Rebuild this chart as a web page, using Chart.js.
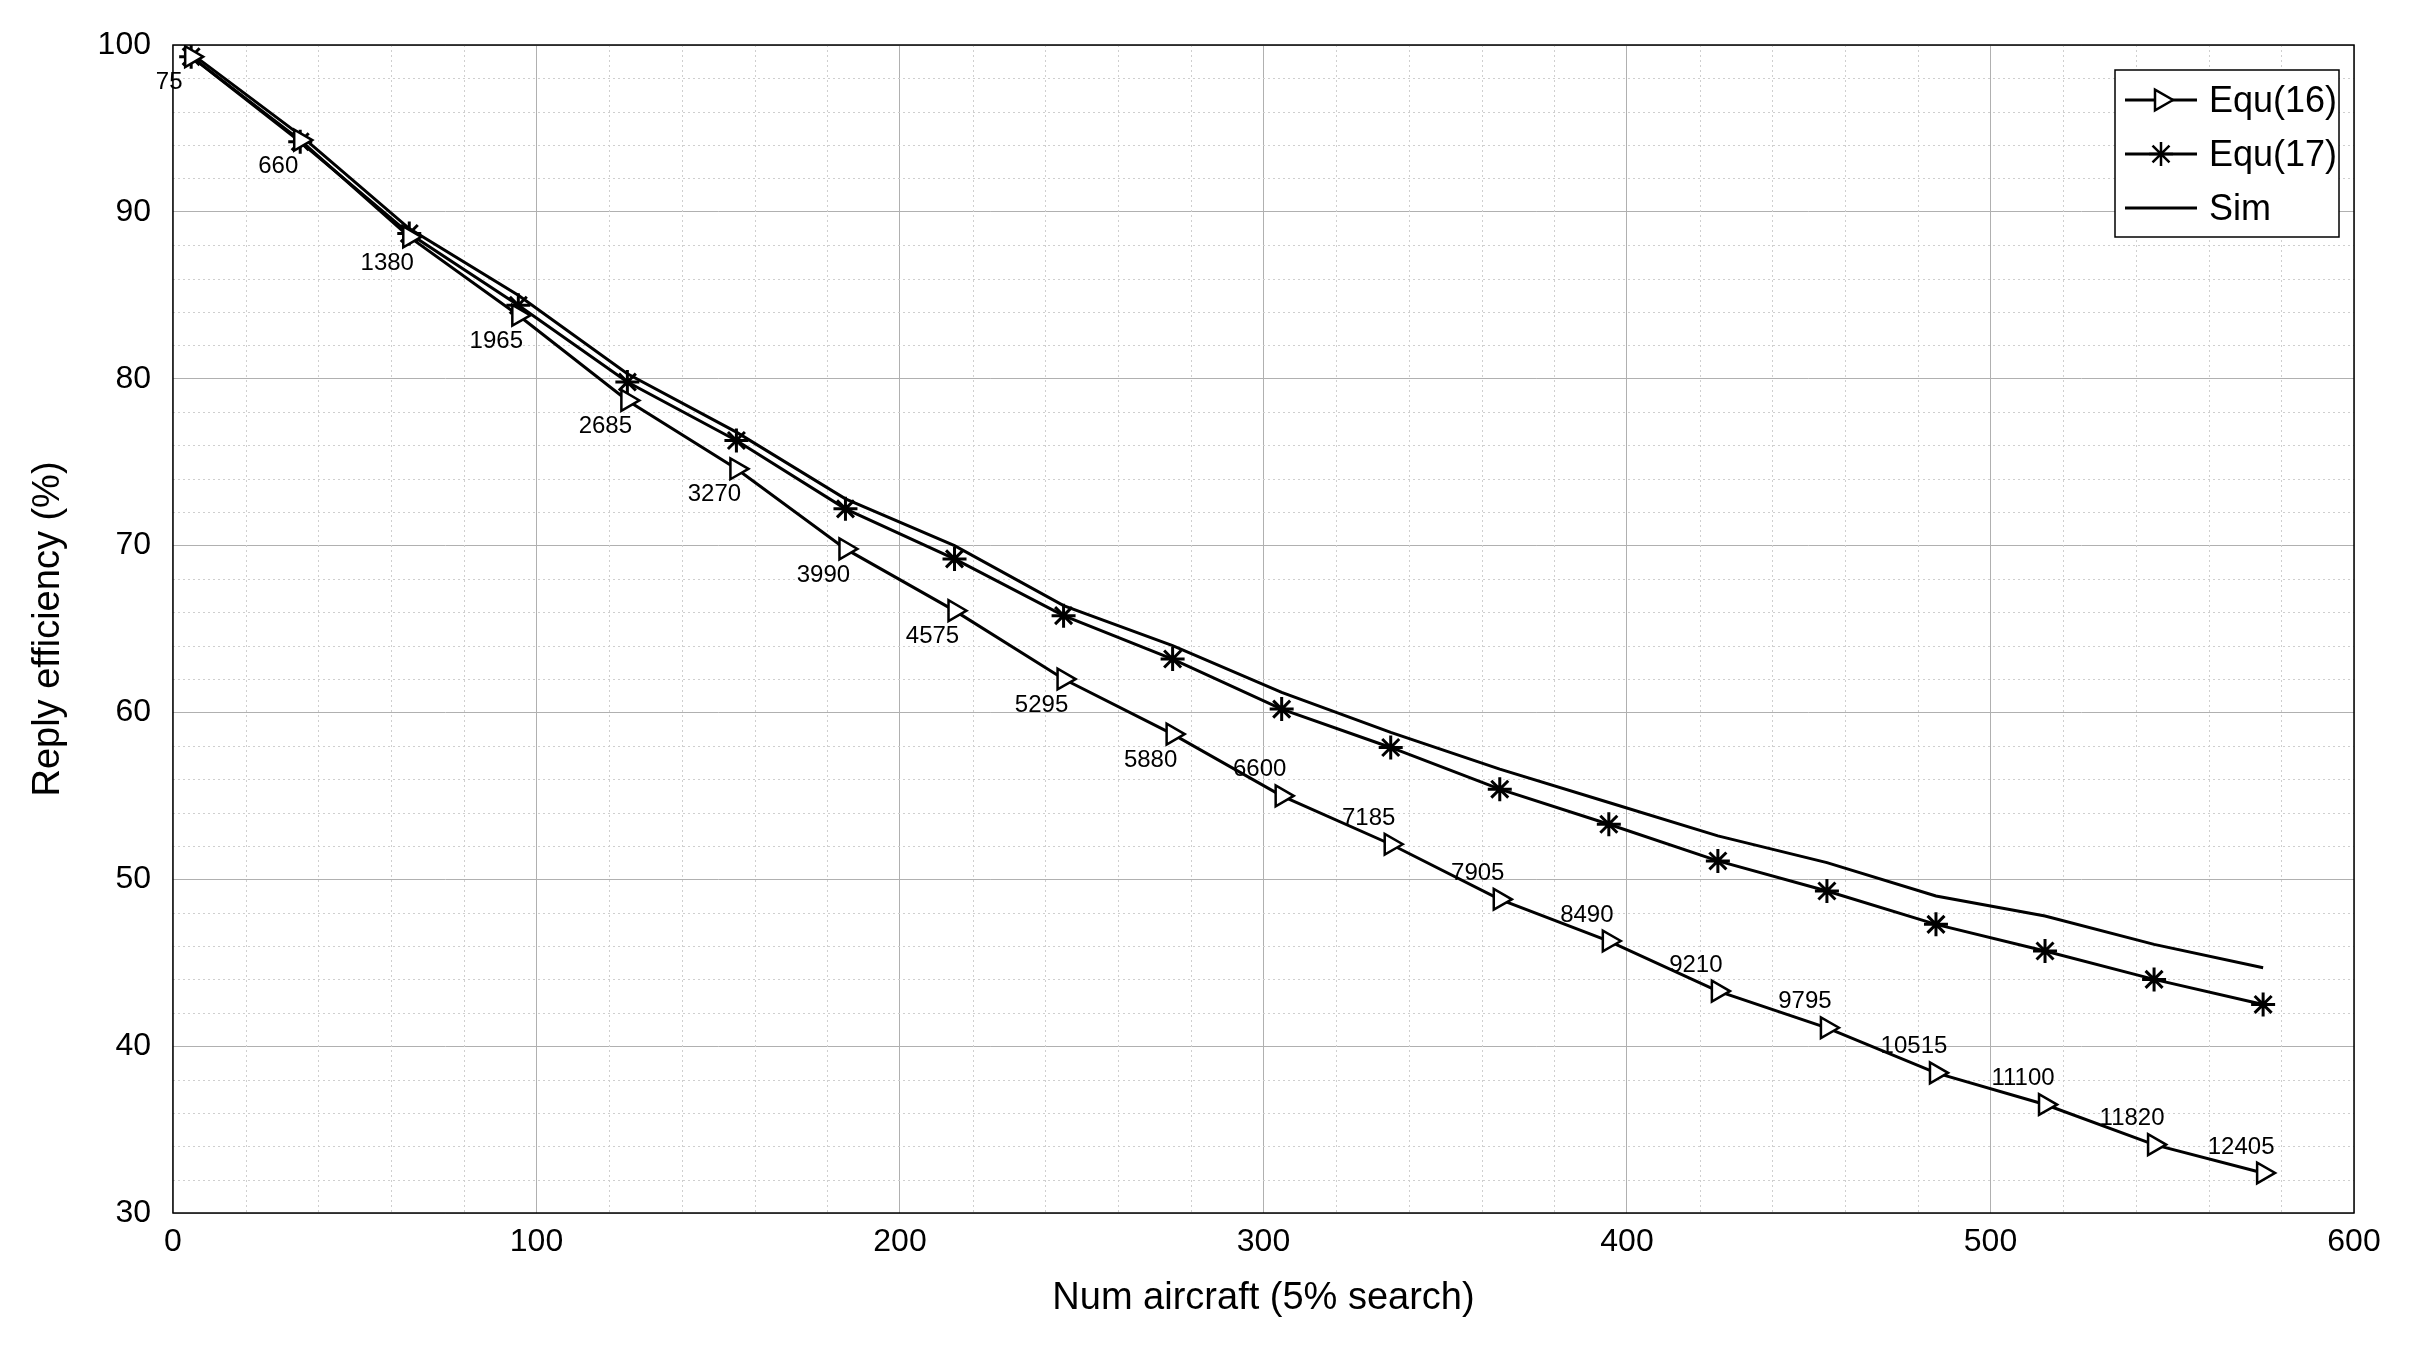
<!DOCTYPE html>
<html><head><meta charset="utf-8">
<script src="https://cdn.jsdelivr.net/npm/chart.js@4/dist/chart.umd.min.js"></script>
<style>html,body{margin:0;background:#fff}#c{display:block}</style>
</head><body>
<canvas id="c" width="2417" height="1355"></canvas>
<script>
/* ===================== DATA ===================== */
const xs = [5,35,65,95,125,155,185,215,245,275,305,335,365,395,425,455,485,515,545,575];
const equ16 = [99.3,94.3,88.5,83.8,78.7,74.6,69.8,66.1,62.0,58.7,55.0,52.1,48.8,46.3,43.3,41.1,38.4,36.5,34.1,32.4];
const equ17 = [99.3,94.2,88.7,84.4,79.8,76.3,72.2,69.2,65.8,63.2,60.2,57.9,55.4,53.3,51.1,49.3,47.3,45.7,44.0,42.5];
const sim = [99.5,94.6,89.0,85.0,80.3,76.8,72.8,70.0,66.4,64.0,61.2,58.8,56.6,54.6,52.6,51.0,49.0,47.8,46.1,44.7];
const pointLabels = ["75","660","1380","1965","2685","3270","3990","4575","5295","5880","6600","7185","7905","8490","9210","9795","10515","11100","11820","12405"];

const FONT = "Arial, 'Liberation Sans', sans-serif";
const pts = arr => xs.map((x,i) => ({x, y: arr[i]}));

/* ===================== PLUGINS ===================== */
const minorGrid = {
  id: "minorGrid",
  beforeDatasetsDraw(chart) {
    const {ctx, chartArea: a, scales: {x, y}} = chart;
    ctx.save();
    ctx.strokeStyle = "#cfcfcf";
    ctx.lineWidth = 1;
    ctx.setLineDash([2,3]);
    for (let v = 0; v <= 600; v += 20) {
      if (v % 100 === 0) continue;
      const px = Math.round(x.getPixelForValue(v)) + 0.5;
      ctx.beginPath(); ctx.moveTo(px, a.top); ctx.lineTo(px, a.bottom); ctx.stroke();
    }
    for (let v = 30; v <= 100; v += 2) {
      if (v % 10 === 0) continue;
      const py = Math.round(y.getPixelForValue(v)) + 0.5;
      ctx.beginPath(); ctx.moveTo(a.left, py); ctx.lineTo(a.right, py); ctx.stroke();
    }
    ctx.restore();
  }
};

const labelsAndLegend = {
  id: "labelsAndLegend",
  afterDatasetsDraw(chart) {
    const {ctx, chartArea: a, scales: {x, y}} = chart;
    ctx.save();
    // point labels
    ctx.fillStyle = "#000";
    ctx.font = "24px " + FONT;
    ctx.textAlign = "center";
    xs.forEach((v, i) => {
      const px = x.getPixelForValue(v), py = y.getPixelForValue(equ16[i]);
      if (i < 10) { ctx.textBaseline = "top"; ctx.fillText(pointLabels[i], px - 22, py + 14); }
      else { ctx.textBaseline = "bottom"; ctx.fillText(pointLabels[i], px - 22, py - 14); }
    });
    // axis frame
    ctx.strokeStyle = "#000"; ctx.lineWidth = 1.5; ctx.setLineDash([]);
    ctx.strokeRect(a.left, a.top, a.right - a.left, a.bottom - a.top);
    // legend
    const lx = 2115, ly = 70, lw = 224, lh = 167;
    ctx.fillStyle = "#fff"; ctx.fillRect(lx, ly, lw, lh);
    ctx.lineWidth = 1.5; ctx.strokeRect(lx, ly, lw, lh);
    const items = [["Equ(16)", "triangle", 90], ["Equ(17)", "star", 0], ["Sim", false, 0]];
    ctx.font = "36px " + FONT; ctx.textAlign = "left"; ctx.textBaseline = "middle";
    items.forEach((it, k) => {
      const cy = ly + 30 + k * 54;
      ctx.strokeStyle = "#000"; ctx.lineWidth = 3;
      ctx.beginPath(); ctx.moveTo(lx + 10, cy); ctx.lineTo(lx + 82, cy); ctx.stroke();
      if (it[1]) {
        ctx.fillStyle = "#fff"; ctx.lineWidth = 2.5;
        Chart.helpers.drawPoint(ctx, {pointStyle: it[1], radius: 12, rotation: it[2], borderWidth: 2.5}, lx + 46, cy);
      }
      ctx.fillStyle = "#000";
      ctx.fillText(it[0], lx + 94, cy + 2);
    });
    ctx.restore();
  }
};

/* ===================== CHART ===================== */
new Chart(document.getElementById("c"), {
  type: "line",
  data: {
    datasets: [
      { label: "Equ(16)", data: pts(equ16), borderColor: "#000", borderWidth: 3,
        pointStyle: "triangle", rotation: 90, pointRadius: 12, pointBorderWidth: 2.5,
        pointBackgroundColor: "#fff", pointBorderColor: "#000" },
      { label: "Equ(17)", data: pts(equ17), borderColor: "#000", borderWidth: 3,
        pointStyle: "star", pointRadius: 12, pointBorderWidth: 3, pointBorderColor: "#000" },
      { label: "Sim", data: pts(sim), borderColor: "#000", borderWidth: 3, pointRadius: 0 }
    ]
  },
  options: {
    responsive: false, animation: false,
    layout: { padding: { top: 45, right: 63, bottom: 30, left: 22 } },
    plugins: { legend: { display: false }, tooltip: { enabled: false } },
    scales: {
      x: { type: "linear", min: 0, max: 600,
        ticks: { stepSize: 100, color: "#000", font: { size: 32, family: FONT }, padding: 10 },
        grid: { color: "#b0b0b0", lineWidth: 1, drawTicks: false },
        border: { display: false },
        title: { display: true, text: "Num aircraft (5% search)", color: "#000", font: { size: 38, family: FONT } } },
      y: { min: 30, max: 100,
        ticks: { stepSize: 10, color: "#000", font: { size: 32, family: FONT }, padding: 22 },
        grid: { color: "#b0b0b0", lineWidth: 1, drawTicks: false },
        border: { display: false },
        title: { display: true, text: "Reply efficiency (%)", color: "#000", font: { size: 38, family: FONT } } }
    }
  },
  plugins: [minorGrid, labelsAndLegend]
});
</script>
</body></html>
